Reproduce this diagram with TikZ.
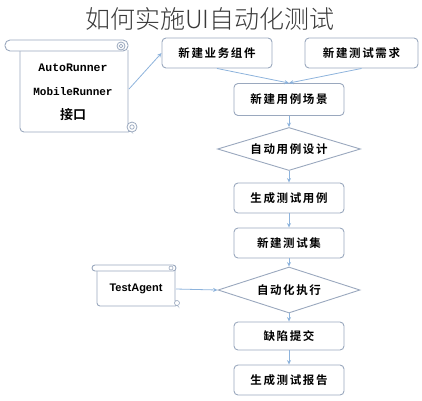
\documentclass[tikz,border=0pt]{standalone}
\usepackage{fontspec}
\usetikzlibrary{shapes.geometric,arrows.meta}
\newfontfamily\cjkb{Noto Sans CJK SC Bold}[LetterSpace=14]
\newfontfamily\cjkbb{Noto Sans CJK SC Bold}
\newfontfamily\cjkl{Noto Sans CJK SC Light}
\newfontfamily\monob{Liberation Mono}[BoldFont={Liberation Mono Bold}]
\newfontfamily\sansb{Liberation Sans}[BoldFont={Liberation Sans Bold}]
\definecolor{boxc}{HTML}{9AA8BE}
\definecolor{arrc}{HTML}{8DB3DC}
\definecolor{titlec}{HTML}{3A3A3A}
\begin{document}
\begin{tikzpicture}[x=1pt,y=-1pt,
  box/.style={draw=boxc, fill=white, rounded corners=4pt, line width=0.9pt,
    minimum width=110pt, minimum height=30pt, inner sep=0pt,
    font=\cjkb\fontsize{11.5}{13}\selectfont},
  dia/.style={draw=boxc, fill=white, diamond, line width=0.9pt, inner sep=0pt,
    aspect=3.2, font=\cjkb\fontsize{11.5}{13}\selectfont},
  arr/.style={draw=arrc, line width=0.8pt, -{Stealth[length=4.5pt,width=4pt]}},
  scroll/.style={draw=boxc, line width=0.9pt, fill=white}
]
\useasboundingbox (0,0) rectangle (422,400);

% title
\node[font=\cjkl\fontsize{25}{28}\selectfont, text=titlec] (title) at (210,19) {如何实施UI自动化测试};

% left scroll
\draw[scroll, rounded corners=4pt] (20,50) -- (20,132) -- (132,132) -- (128,128) -- (128,50);
\draw[scroll, rounded corners=5pt] (5,40) rectangle (128,51);
\draw[draw=boxc, line width=0.8pt] (121,46) circle (4);
\draw[draw=boxc, line width=0.7pt] (121,46) circle (1.8);
\draw[draw=boxc, fill=white, line width=0.8pt] (132,127) circle (5);
\draw[draw=boxc, line width=0.7pt] (132,127) circle (2.2);
\node[font=\monob\bfseries\fontsize{11.5}{12}\selectfont] (ar) at (73,68) {AutoRunner};
\node[font=\monob\bfseries\fontsize{11}{12}\selectfont] (mr) at (73,92) {MobileRunner};
\node[font=\cjkbb\fontsize{13}{14}\selectfont] (jk) at (73,115) {接口};
\coordinate (s1r) at (129,89);

% TestAgent scroll
\draw[scroll, rounded corners=3pt] (97,270) -- (97,306) -- (178,306) -- (175,303) -- (175,270);
\draw[scroll, rounded corners=3pt] (92,265) rectangle (176,271);
\draw[draw=boxc, line width=0.6pt] (171,268) circle (2);
\draw[draw=boxc, fill=white, line width=0.6pt] (177,303) circle (2.5);
\node[font=\sansb\bfseries\fontsize{11}{12}\selectfont] (ta) at (136,289) {TestAgent};
\coordinate (s2r) at (176,289);

% flow boxes
\node[box, minimum width=110pt] (b1) at (217,53) {新建业务组件};
\node[box, minimum width=113pt] (b2) at (361.5,53) {新建测试需求};
\node[box, minimum height=32pt] (b3) at (289,99.5) {新建用例场景};
\node[dia, minimum width=143pt, minimum height=43pt] (d1) at (289,149) {自动用例设计};
\node[box] (b4) at (289,198) {生成测试用例};
\node[box] (b5) at (289,243) {新建测试集};
\node[dia, minimum width=142pt, minimum height=46pt] (d2) at (289,290) {自动化执行};
\node[box, minimum height=28pt] (b6) at (289,336) {缺陷提交};
\node[box] (b7) at (289,380) {生成测试报告};

% connectors
\draw[arr] (s1r) -- (b1.west);
\draw[arr] (b1.south) -- (b3.north);
\draw[arr] (b2.south) -- (b3.north);
\draw[arr] (b3) -- (d1);
\draw[arr] (d1) -- (b4);
\draw[arr] (b4) -- (b5);
\draw[arr] (b5) -- (d2);
\draw[arr] (s2r) -- (d2.west);
\draw[arr] (d2) -- (b6);
\draw[arr] (b6) -- (b7);
\end{tikzpicture}
\end{document}
